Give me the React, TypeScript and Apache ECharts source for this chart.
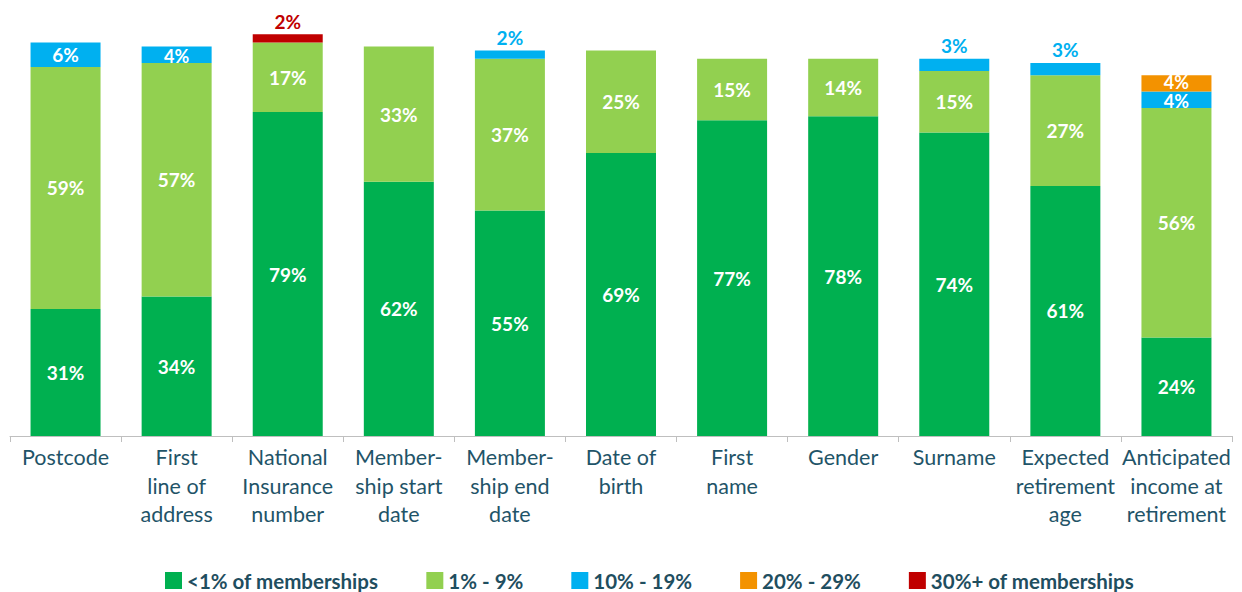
import React, { useEffect, useRef } from "react";
import * as echarts from "echarts";

const categories = [
  "Postcode",
  "First\nline of\naddress",
  "National\nInsurance\nnumber",
  "Member-\nship start\ndate",
  "Member-\nship end\ndate",
  "Date of\nbirth",
  "First\nname",
  "Gender",
  "Surname",
  "Expected\nretirement\nage",
  "Anticipated\nincome at\nretirement",
];

const under1: (number | null)[] = [31, 34, 79, 62, 55, 69, 77, 78, 74, 61, 24];
const from1to9: (number | null)[] = [59, 57, 17, 33, 37, 25, 15, 14, 15, 27, 56];
const from10to19: (number | null)[] = [6, 4, null, null, 2, null, null, null, 3, 3, 4];
const from20to29: (number | null)[] = [null, null, null, null, null, null, null, null, null, null, 4];
const over30: (number | null)[] = [null, null, 2, null, null, null, null, null, null, null, null];

const seriesNames = ["<1% of memberships", "1% - 9%", "10% - 19%", "20% - 29%", "30%+ of memberships"];
const seriesColors = ["#00B050", "#92D050", "#00B0F0", "#F39200", "#C00000"];
const seriesValues = [under1, from1to9, from10to19, from20to29, over30];

const FONT = "Lato";

export default function App() {
  const ref = useRef<HTMLDivElement>(null);
  useEffect(() => {
    if (!ref.current) return;
    const chart = echarts.init(ref.current, null, { renderer: "svg" });
    const series = seriesValues.map((vals, si) => ({
      name: seriesNames[si],
      type: "bar",
      stack: "total",
      barWidth: 70,
      itemStyle: { color: seriesColors[si] },
      label: {
        show: true,
        position: "inside",
        formatter: "{c}%",
        color: "#ffffff",
        fontFamily: FONT,
        fontWeight: "bold",
        fontSize: 19,
        lineHeight: 14,
      },
      data: vals.map((v) =>
        v === null
          ? "-"
          : v <= 3
          ? {
              value: v,
              label: { position: "top", distance: 6, color: seriesColors[si] },
            }
          : v <= 4
          ? {
              value: v,
              label: { fontSize: 18, offset: [0, si === 3 ? -1.5 : 1.5] },
            }
          : v
      ),
    }));
    chart.setOption({
      animation: false,
      grid: { left: 2, right: 2, top: 18, bottom: 156, containLabel: false },
      legend: {
        top: 562,
        left: 157,
        itemWidth: 17,
        itemHeight: 17,
        itemGap: 48,
        padding: 0,
        icon: "rect",
        textStyle: {
          fontFamily: FONT,
          fontWeight: "bold",
          fontSize: 20.5,
          lineHeight: 20,
          color: "#1F4E5F",
        },
        data: seriesNames,
      },
      xAxis: {
        type: "category",
        data: categories,
        axisLine: { lineStyle: { color: "#BFBFBF" } },
        axisTick: { show: true, length: 6, lineStyle: { color: "#BFBFBF" } },
        axisLabel: {
          interval: 0,
          margin: 7,
          fontFamily: FONT,
          fontSize: 21.5,
          lineHeight: 28.5,
          color: "#1F5468",
        },
      },
      yAxis: { type: "value", min: 0, max: 100, show: false, splitLine: { show: false } },
      series,
    });
    return () => chart.dispose();
  }, []);
  return <div ref={ref} style={{ width: 1226, height: 584 }} />;
}
